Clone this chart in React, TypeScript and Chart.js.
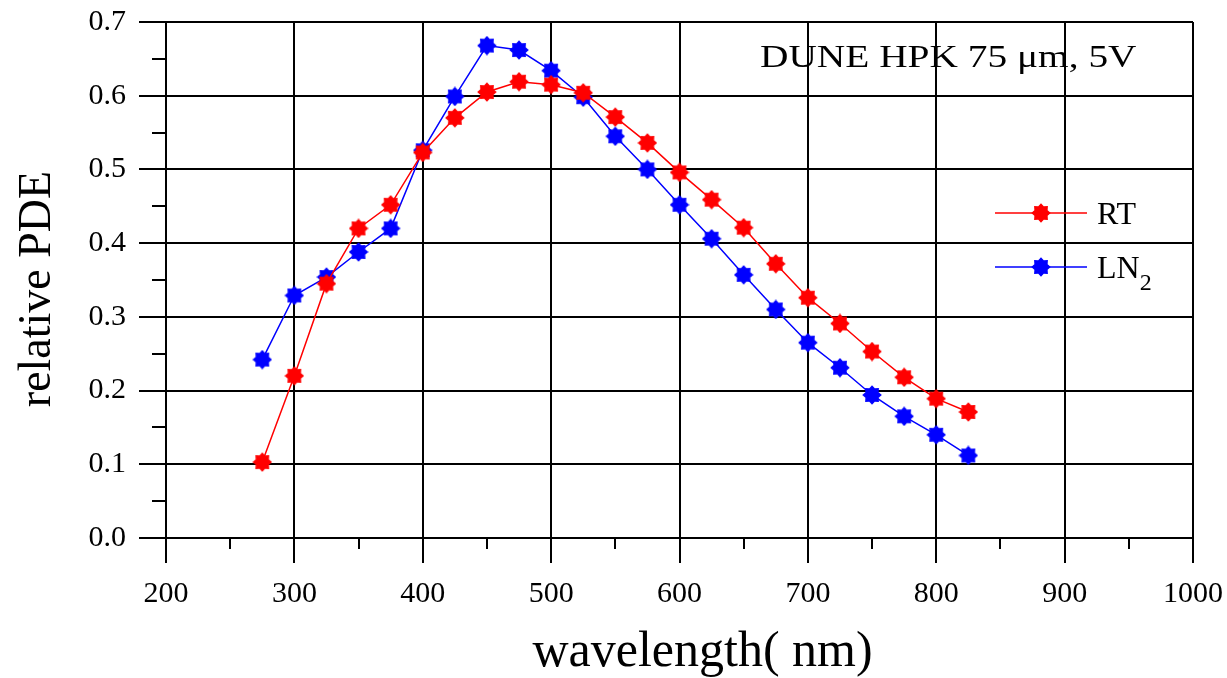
import React, { useEffect, useRef } from "react";
import { Chart, registerables } from "chart.js";

Chart.register(...registerables);

const wavelengths = [275, 300, 325, 350, 375, 400, 425, 450, 475, 500, 525, 550, 575, 600, 625, 650, 675, 700, 725, 750, 775, 800, 825];
const rtValues = [0.103, 0.220, 0.345, 0.420, 0.452, 0.523, 0.570, 0.605, 0.619, 0.615, 0.604, 0.571, 0.536, 0.496, 0.459, 0.421, 0.372, 0.326, 0.291, 0.253, 0.218, 0.189, 0.171];
const ln2Values = [0.242, 0.329, 0.354, 0.388, 0.420, 0.526, 0.599, 0.668, 0.662, 0.634, 0.598, 0.545, 0.500, 0.452, 0.406, 0.357, 0.310, 0.265, 0.231, 0.194, 0.165, 0.140, 0.112];
const xMinorTicks = [250, 350, 450, 550, 650, 750, 850, 950];
const yMinorTicks = [0.05, 0.15, 0.25, 0.35, 0.45, 0.55, 0.65];
const chartTitle = "DUNE HPK 75 \u03bcm, 5V";
const xTitle = "wavelength( nm)";
const yTitle = "relative PDE";
const seriesNames = ["RT", "LN"];

const SERIF = "'Liberation Serif', 'Times New Roman', serif";

function makeStar(color: string): HTMLCanvasElement {
  const c = document.createElement("canvas");
  c.width = 20;
  c.height = 20;
  const ctx = c.getContext("2d")!;
  ctx.fillStyle = color;
  ctx.beginPath();
  const n = 8;
  for (let i = 0; i < n * 2; i++) {
    const r = i % 2 === 0 ? 9.8 : 7.2;
    const a = (Math.PI * i) / n - Math.PI / 2;
    const px = 10 + r * Math.cos(a);
    const py = 10 + r * Math.sin(a);
    if (i === 0) ctx.moveTo(px, py);
    else ctx.lineTo(px, py);
  }
  ctx.closePath();
  ctx.fill();
  return c;
}

function zeroPad(s: any) {
  s.paddingLeft = 0;
  s.paddingRight = 0;
  s.paddingTop = 0;
  s.paddingBottom = 0;
}

export default function App() {
  const ref = useRef<HTMLCanvasElement>(null);

  useEffect(() => {
    if (!ref.current) return;
    const redStar = makeStar("#ff0000");
    const blueStar = makeStar("#0000ff");

    const decor = {
      id: "decor",
      afterDraw(chart: any) {
        const ctx = chart.ctx as CanvasRenderingContext2D;
        const { left, right, top, bottom } = chart.chartArea;
        const xs = chart.scales.x;
        const ys = chart.scales.y;
        ctx.save();
        // minor ticks
        ctx.strokeStyle = "#000";
        ctx.lineWidth = 2;
        ctx.beginPath();
        for (const v of xMinorTicks) {
          const px = Math.round(xs.getPixelForValue(v));
          ctx.moveTo(px, bottom);
          ctx.lineTo(px, bottom + 11);
        }
        for (const v of yMinorTicks) {
          const py = Math.round(ys.getPixelForValue(v));
          ctx.moveTo(left, py);
          ctx.lineTo(left - 14, py);
        }
        ctx.stroke();

        ctx.fillStyle = "#000";
        ctx.textBaseline = "alphabetic";

        // axis titles
        ctx.textAlign = "center";
        ctx.font = `50px ${SERIF}`;
        ctx.fillText(xTitle, (left + right) / 2 + 23, bottom + 128);
        ctx.save();
        ctx.translate(50, (top + bottom) / 2 + 9);
        ctx.rotate(-Math.PI / 2);
        ctx.font = `46px ${SERIF}`;
        ctx.fillText(yTitle, 0, 0);
        ctx.restore();

        // title
        ctx.textAlign = "left";
        ctx.save();
        ctx.translate(right - 433, top + 45);
        ctx.scale(1.27, 1);
        ctx.font = `31px ${SERIF}`;
        ctx.fillText(chartTitle, 0, 0);
        ctx.restore();

        // legend
        const entries = [
          { color: "#ff0000", img: redStar, y: top + 191, label: seriesNames[0], sub: "" },
          { color: "#0000ff", img: blueStar, y: top + 245, label: seriesNames[1], sub: "2" },
        ];
        for (const e of entries) {
          ctx.strokeStyle = e.color;
          ctx.lineWidth = 1.5;
          ctx.beginPath();
          ctx.moveTo(right - 198, e.y);
          ctx.lineTo(right - 106, e.y);
          ctx.stroke();
          ctx.drawImage(e.img, right - 152 - 10, e.y - 10);
          ctx.font = `32px ${SERIF}`;
          ctx.fillStyle = "#000";
          ctx.fillText(e.label, right - 96, e.y + 11);
          if (e.sub) {
            const w = ctx.measureText(e.label).width;
            ctx.font = `24px ${SERIF}`;
            ctx.fillText(e.sub, right - 96 + w, e.y + 23);
          }
        }
        ctx.restore();
      },
    };

    const chart = new Chart(ref.current, {
      type: "line",
      data: {
        datasets: [
          {
            label: "RT",
            data: wavelengths.map((w, i) => ({ x: w, y: rtValues[i] })),
            borderColor: "#ff0000",
            backgroundColor: "#ff0000",
            borderWidth: 1.5,
            pointStyle: redStar as any,
            pointRadius: 9,
          },
          {
            label: "LN2",
            data: wavelengths.map((w, i) => ({ x: w, y: ln2Values[i] })),
            borderColor: "#0000ff",
            backgroundColor: "#0000ff",
            borderWidth: 1.5,
            pointStyle: blueStar as any,
            pointRadius: 9,
          },
        ],
      },
      options: {
        animation: false,
        responsive: true,
        maintainAspectRatio: false,
        layout: { autoPadding: false, padding: { top: 22, right: 34, left: 0, bottom: 0 } },
        plugins: { legend: { display: false }, tooltip: { enabled: false }, title: { display: false } },
        scales: {
          x: {
            type: "linear",
            min: 200,
            max: 1000,
            afterFit: (s: any) => {
              s.height = 140;
              zeroPad(s);
            },
            ticks: {
              stepSize: 100,
              color: "#000",
              padding: 13,
              font: { family: SERIF, size: 30 },
              callback: (v: any) => String(v),
            },
            grid: { color: "#000", lineWidth: 2, tickLength: 25, tickColor: "#000", tickWidth: 2 },
            border: { display: true, color: "#000", width: 2 },
          },
          y: {
            type: "linear",
            min: 0,
            max: 0.7,
            afterFit: (s: any) => {
              s.width = 166;
              zeroPad(s);
            },
            ticks: {
              stepSize: 0.1,
              color: "#000",
              padding: 13,
              font: { family: SERIF, size: 30 },
              callback: (v: any) => Number(v).toFixed(1),
            },
            grid: { color: "#000", lineWidth: 2, tickLength: 27, tickColor: "#000", tickWidth: 2 },
            border: { display: true, color: "#000", width: 2 },
          },
        },
      },
      plugins: [decor],
    });
    return () => chart.destroy();
  }, []);

  return (
    <div style={{ position: "fixed", left: 0, top: 0, width: 1227, height: 678, background: "#fff" }}>
      <canvas ref={ref} />
    </div>
  );
}
